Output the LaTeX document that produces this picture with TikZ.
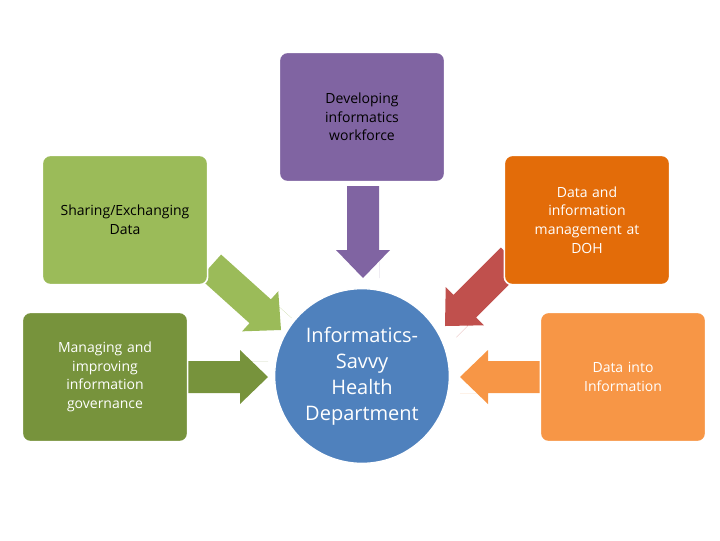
\documentclass[tikz,border=0pt]{standalone}
\usepackage{fontspec}
\setmainfont{Open Sans}
\definecolor{cpurple}{HTML}{8064A2}
\definecolor{cgreen}{HTML}{9BBB59}
\definecolor{cdkgreen}{HTML}{77933C}
\definecolor{corange}{HTML}{E36C09}
\definecolor{clorange}{HTML}{F79646}
\definecolor{cred}{HTML}{C0504D}
\definecolor{cblue}{HTML}{4F81BD}
\begin{document}
\begin{tikzpicture}[x=0.75pt,y=-0.75pt]

    % Styles
    \tikzstyle{box} = [rectangle, rounded corners=6pt, minimum width=124pt, minimum height=97pt, text width=110pt, align=center, draw=white, line width=1.2pt, font=\fontsize{10.5}{14}\selectfont]
    \tikzstyle{hub} = [circle, minimum size=131pt, fill=cblue, draw=white, line width=1pt, text=white, align=center, font=\fontsize{15}{19.5}\selectfont]
    \tikzset{blockarrow/.pic={\fill (0,-16) -- (-28,-16) -- (-28,-27) -- (0,0) -- (-28,27) -- (-28,16) -- (#1,16) -- (#1,-16) -- cycle;}}

    \useasboundingbox (0,0) rectangle (720,540);

    % Flèches
    \path[fill=cpurple] (363,278) pic[rotate=-90, fill=cpurple] {blockarrow=-92};
    \path (281,330) pic[rotate=-42, fill=cgreen] {blockarrow=-95};
    \path (445,326) pic[rotate=-135, fill=cred] {blockarrow=-95};
    \path (268,377) pic[fill=cdkgreen] {blockarrow=-80};
    \path (460,377) pic[rotate=180, fill=clorange] {blockarrow=-80};

    % Noeuds
    \node (dev) [box, fill=cpurple] at (362,117) {Developing\\informatics\\workforce};
    \node (share) [box, fill=cgreen] at (125,220) {};
    \node at (125,220) [font=\fontsize{10.5}{14}\selectfont, align=center] {Sharing/Exchanging\\Data};
    \node (doh) [box, fill=corange, text=white] at (587,220) {Data and\\information\\management at\\DOH};
    \node (gov) [box, fill=cdkgreen, text=white] at (105,377) {Managing and\\improving\\information\\governance};
    \node (info) [box, fill=clorange, text=white] at (623,377) {Data into\\Information};
    \node (hub) [hub] at (362,376) {Informatics-\\Savvy\\Health\\Department};

\end{tikzpicture}
\end{document}
